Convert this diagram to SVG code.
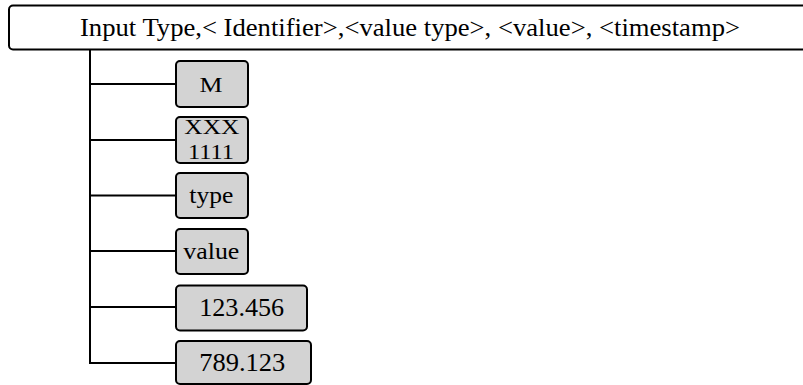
<svg xmlns="http://www.w3.org/2000/svg" width="803" height="385" viewBox="0 0 803 385">
<style>
.box{fill:#d3d3d3;stroke:#000;stroke-width:2}
.hdr{fill:#fff;stroke:#000;stroke-width:2}
.t{font-family:"Liberation Serif","Times New Roman",serif;fill:#000;text-anchor:middle}
.c{stroke:#000;stroke-width:2;fill:none}
</style>
<g id="header">
<rect class="hdr" x="9" y="5.5" width="820" height="44" rx="4"/>
<text class="t" x="410" y="35.5" font-size="25" textLength="660" lengthAdjust="spacingAndGlyphs">Input Type,&lt; Identifier&gt;,&lt;value type&gt;, &lt;value&gt;, &lt;timestamp&gt;</text>
</g>
<g id="connectors">
<path class="c" d="M90 50 V363 H176"/>
<path class="c" d="M90 84 H176 M90 140 H176 M90 195.5 H176 M90 251 H176 M90 307 H176"/>
</g>
<g id="node-m">
<rect class="box" x="176" y="61" width="72" height="46" rx="4"/>
<text class="t" x="211" y="91.7" font-size="21" textLength="23" lengthAdjust="spacingAndGlyphs">M</text>
</g>
<g id="node-id">
<rect class="box" x="176" y="117" width="72" height="46" rx="4"/>
<text class="t" x="211.8" y="134" font-size="21" textLength="55" lengthAdjust="spacingAndGlyphs">XXX</text>
<text class="t" x="211" y="159" font-size="20" textLength="46" lengthAdjust="spacingAndGlyphs">1111</text>
</g>
<g id="node-type">
<rect class="box" x="176" y="173" width="72" height="45" rx="4"/>
<text class="t" x="211.3" y="203.3" font-size="22.5" textLength="44" lengthAdjust="spacingAndGlyphs">type</text>
</g>
<g id="node-value">
<rect class="box" x="176" y="229" width="72" height="45" rx="4"/>
<text class="t" x="211.3" y="258.7" font-size="22.5" textLength="56" lengthAdjust="spacingAndGlyphs">value</text>
</g>
<g id="node-v1">
<rect class="box" x="176" y="285.5" width="131" height="45" rx="4"/>
<text class="t" x="241.7" y="316" font-size="26" textLength="85" lengthAdjust="spacingAndGlyphs">123.456</text>
</g>
<g id="node-v2">
<rect class="box" x="176" y="341" width="135" height="43" rx="4"/>
<text class="t" x="242.2" y="371" font-size="26" textLength="86" lengthAdjust="spacingAndGlyphs">789.123</text>
</g>
</svg>
